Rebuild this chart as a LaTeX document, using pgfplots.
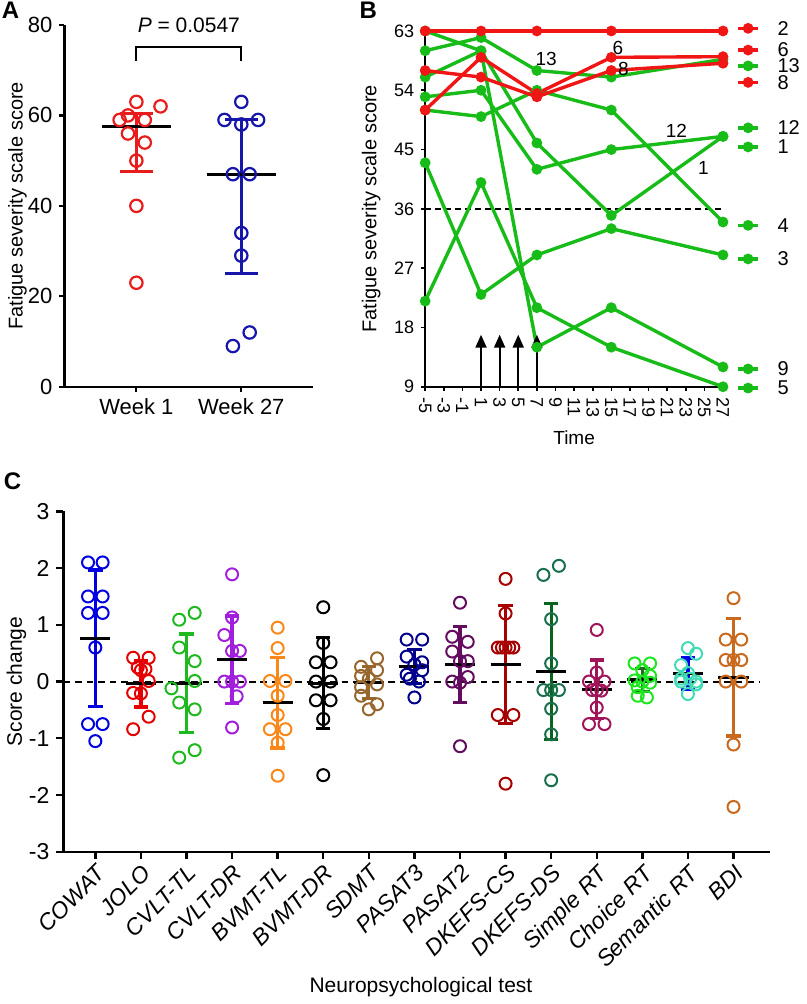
\documentclass[border=0pt]{standalone}
\usepackage{pgfplots}
\pgfplotsset{compat=1.18}
\usepackage{fontspec}
\setmainfont{Liberation Sans}
\usetikzlibrary{arrows.meta}
\definecolor{ared}{RGB}{232,28,28}
\definecolor{ablue}{RGB}{22,22,170}
\definecolor{bred}{RGB}{240,22,22}
\definecolor{bgreen}{RGB}{24,188,24}
\definecolor{cCOWAT}{RGB}{0,0,225}
\definecolor{cJOLO}{RGB}{230,0,0}
\definecolor{cCVLTTL}{RGB}{30,185,30}
\definecolor{cCVLTDR}{RGB}{160,30,220}
\definecolor{cBVMTTL}{RGB}{250,135,25}
\definecolor{cBVMTDR}{RGB}{0,0,0}
\definecolor{cSDMT}{RGB}{150,102,45}
\definecolor{cPASATt}{RGB}{0,0,140}
\definecolor{cPASATtw}{RGB}{100,12,95}
\definecolor{cDKCS}{RGB}{168,0,0}
\definecolor{cDKDS}{RGB}{25,110,75}
\definecolor{cDKDSbar}{RGB}{10,100,30}
\definecolor{cSimple}{RGB}{160,20,90}
\definecolor{cChoice}{RGB}{30,230,30}
\definecolor{cChoicebar}{RGB}{35,105,35}
\definecolor{cSem}{RGB}{65,220,180}
\definecolor{cSembar}{RGB}{0,0,235}
\definecolor{cBDI}{RGB}{200,105,30}
\pgfplotsset{
  myax/.style={scale only axis, anchor=south west, axis x line*=bottom, axis y line*=left,
    tick align=outside, clip=false, /pgf/number format/assume math mode=true},
  gl/.style={bgreen, line width=1.7pt, mark=*, mark size=1.8pt, mark options={solid, fill=bgreen, draw=bgreen}},
  rl/.style={bred, line width=1.7pt, mark=*, mark size=1.8pt, mark options={solid, fill=bred, draw=bred}},
  cpt/.style={only marks, mark=o, mark size=3pt, color=#1, mark options={line width=1pt}},
}
% error bar: x, low, high, half cap width, style
\newcommand{\ebar}[5]{\addplot[#5, mark=none, unbounded coords=jump]
  table[row sep=\\, x expr=\thisrow{x}+\thisrow{dx}, y=y]{x dx y\\ #1 0 #2\\ #1 0 #3\\ nan nan nan\\ #1 -#4 #3\\ #1 #4 #3\\ nan nan nan\\ #1 -#4 #2\\ #1 #4 #2\\};}
% mean line: x, value, half width
\newcommand{\mline}[3]{\addplot[black, line width=1.6pt, mark=none]
  table[row sep=\\, x expr=\thisrow{x}+\thisrow{dx}, y=y]{x dx y\\ #1 -#3 #2\\ #1 #3 #2\\};}
\begin{document}
\begin{tikzpicture}
\path (0,0) rectangle (396pt,502pt);
\node[anchor=north west, inner sep=0pt, font=\bfseries\fontsize{12}{14}\selectfont] at (0pt,501pt) {A};
\node[anchor=north west, inner sep=0pt, font=\bfseries\fontsize{12}{14}\selectfont] at (179pt,501pt) {B};
\node[anchor=north west, inner sep=0pt, font=\bfseries\fontsize{12}{14}\selectfont] at (1pt,265.5pt) {C};

% ---------------- Panel A
\begin{axis}[myax, at={(31.5pt,308.5pt)}, width=124.5pt, height=181pt,
  xmin=0.314, xmax=2.686, ymin=0, ymax=80,
  xtick={1,2}, xticklabels={Week 1,Week 27}, ytick={0,20,40,60,80},
  axis line style={-, line width=1.1pt}, major tick style={line width=1.1pt, black}, major tick length=2.5pt,
  tick label style={font=\fontsize{11}{13}\selectfont}]
\addplot[only marks, mark=o, mark size=3.1pt, ared, mark options={line width=1.1pt}] coordinates {(1,63)(1.23,62)(0.84,59)(0.92,60)(1.08,59)(0.92,56)(1.08,54)(1,50)(1,40)(1,23)};
\addplot[only marks, mark=o, mark size=3.1pt, ablue, mark options={line width=1.1pt}] coordinates {(2,63)(1.84,59)(2.16,59)(2,58)(1.92,47)(2.08,47)(2,34)(2,29)(2.08,12)(1.92,9)};
\ebar{1}{47.5}{60.5}{0.16}{ared, line width=1.5pt}
\ebar{2}{25}{59}{0.16}{ablue, line width=1.5pt}
\mline{1}{57.5}{0.33}
\mline{2}{47}{0.33}
\addplot[black, line width=1pt, mark=none] coordinates {(1,72)(1,75.2)(2,75.2)(2,72)};
\node[font=\fontsize{10.5}{12}\selectfont] at (axis cs:1.5,80) {\textit{P} = 0.0547};
\node[rotate=90, font=\fontsize{10}{12}\selectfont] at (rel axis cs:-0.189,0.5) {Fatigue severity scale score};
\end{axis}

% ---------------- Panel B
\begin{axis}[myax, at={(212pt,308.5pt)}, width=149pt, height=178pt,
  xmin=-5, xmax=27, ymin=9, ymax=63,
  xtick={-5,-3,...,27}, ytick={9,18,...,63},
  axis line style={-, line width=1pt}, major tick style={line width=0.8pt, black}, major tick length=2pt,
  tick label style={font=\fontsize{9}{10}\selectfont},
  xticklabel style={rotate=-90, anchor=west}]
\addplot[black, line width=0.9pt, dash pattern=on 3pt off 2pt] coordinates {(-5,36)(27,36)};
% green patients
\addplot[gl] coordinates {(-5,60)(1,62)(7,57)(15,56)(27,58.7)};   % 13
\addplot[gl] coordinates {(-5,53)(1,54)(7,42)(15,45)(27,47)};     % 12
\addplot[gl] coordinates {(-5,63)(1,60)(7,46)(15,35)(27,47)};     % 1
\addplot[gl] coordinates {(-5,56)(1,60)(7,15)(15,21)(27,12)};     % 9
\addplot[gl] coordinates {(-5,51)(1,50)(7,54)(15,51)(27,34)};     % 4
\addplot[gl] coordinates {(-5,43)(1,23)(7,29)(15,33)(27,29)};     % 3
\addplot[gl] coordinates {(-5,22)(1,40)(7,21)(15,15)(27,9)};      % 5
% red patients
\addplot[rl] coordinates {(-5,57)(1,56)(7,53)(15,57)(27,58.1)};   % 8
\addplot[rl] coordinates {(-5,51)(1,59)(7,53.5)(15,59)(27,59.1)}; % 6
\addplot[rl] coordinates {(-5,63)(1,63)(7,63)(15,63)(27,63)};     % 2
% arrows
\addplot[black, line width=1pt, -{Triangle[length=6.5pt,width=5.5pt]}, quiver={u=\thisrow{u}, v=\thisrow{v}}]
  table[row sep=\\]{x y u v\\ 1 9 0 7.9\\ 3 9 0 7.9\\ 5 9 0 7.9\\ 7 9 0 7.9\\};
% inline labels
\node[font=\fontsize{9.5}{11}\selectfont] at (axis cs:8.0,58.7) {13};
\node[font=\fontsize{9.5}{11}\selectfont] at (axis cs:15.7,60.4) {6};
\node[font=\fontsize{9.5}{11}\selectfont] at (axis cs:16.3,57.2) {8};
\node[font=\fontsize{9.5}{11}\selectfont] at (axis cs:22.0,47.8) {12};
\node[font=\fontsize{9.5}{11}\selectfont] at (axis cs:24.9,42.2) {1};
% right-hand key
\addplot[rl, mark indices={2}] coordinates {(28.6,63.4)(29.7,63.4)(30.8,63.4)};
\addplot[rl, mark indices={2}] coordinates {(28.6,60.1)(29.7,60.1)(30.8,60.1)};
\addplot[gl, mark indices={2}] coordinates {(28.6,57.7)(29.7,57.7)(30.8,57.7)};
\addplot[rl, mark indices={2}] coordinates {(28.6,55.2)(29.7,55.2)(30.8,55.2)};
\addplot[gl, mark indices={2}] coordinates {(28.6,48.3)(29.7,48.3)(30.8,48.3)};
\addplot[gl, mark indices={2}] coordinates {(28.6,45.4)(29.7,45.4)(30.8,45.4)};
\addplot[gl, mark indices={2}] coordinates {(28.6,33.5)(29.7,33.5)(30.8,33.5)};
\addplot[gl, mark indices={2}] coordinates {(28.6,28.4)(29.7,28.4)(30.8,28.4)};
\addplot[gl, mark indices={2}] coordinates {(28.6,11.7)(29.7,11.7)(30.8,11.7)};
\addplot[gl, mark indices={2}] coordinates {(28.6,8.8)(29.7,8.8)(30.8,8.8)};
\node[anchor=west, font=\fontsize{10}{11}\selectfont] at (axis cs:32.1,63.4) {2};
\node[anchor=west, font=\fontsize{10}{11}\selectfont] at (axis cs:32.1,60.1) {6};
\node[anchor=west, font=\fontsize{10}{11}\selectfont] at (axis cs:32.1,57.7) {13};
\node[anchor=west, font=\fontsize{10}{11}\selectfont] at (axis cs:32.1,55.2) {8};
\node[anchor=west, font=\fontsize{10}{11}\selectfont] at (axis cs:32.1,48.3) {12};
\node[anchor=west, font=\fontsize{10}{11}\selectfont] at (axis cs:32.1,45.4) {1};
\node[anchor=west, font=\fontsize{10}{11}\selectfont] at (axis cs:32.1,33.5) {4};
\node[anchor=west, font=\fontsize{10}{11}\selectfont] at (axis cs:32.1,28.4) {3};
\node[anchor=west, font=\fontsize{10}{11}\selectfont] at (axis cs:32.1,11.7) {9};
\node[anchor=west, font=\fontsize{10}{11}\selectfont] at (axis cs:32.1,8.8) {5};
\node[rotate=90, font=\fontsize{10}{12}\selectfont] at (rel axis cs:-0.181,0.5) {Fatigue severity scale score};
\node[font=\fontsize{9.5}{11}\selectfont] at (rel axis cs:0.5,-0.143) {Time};
\end{axis}

% ---------------- Panel C
\begin{axis}[myax, at={(31pt,75.85pt)}, width=353.5pt, height=170.3pt,
  xmin=-0.7, xmax=14.8, ymin=-3, ymax=3,
  xtick={0,...,14},
  xticklabels={COWAT,JOLO,CVLT-TL,CVLT-DR,BVMT-TL,BVMT-DR,SDMT,PASAT3,PASAT2,DKEFS-CS,DKEFS-DS,Simple RT,Choice RT,Semantic RT,BDI},
  ytick={-3,-2,-1,0,1,2,3},
  axis line style={-, line width=1.2pt}, major tick style={line width=1.2pt, black}, major tick length=3.5pt,
  tick label style={font=\fontsize{11.5}{13}\selectfont},
  xticklabel style={rotate=45, anchor=north east, inner sep=1.5pt, font=\itshape\fontsize{11.5}{13}\selectfont}]
\addplot[black, line width=1pt, dash pattern=on 3.3pt off 2.5pt] coordinates {(-0.7,0)(14.56,0)};
% points
\addplot[cpt=cCOWAT] coordinates {(-0.16,2.10)(0.16,2.10)(-0.16,1.50)(0.16,1.50)(-0.16,1.21)(0.16,1.21)(0,0.60)(-0.16,-0.75)(0.16,-0.75)(0,-1.05)};
\addplot[cpt=cJOLO] coordinates {(0.83,0.42)(1.17,0.42)(0.93,0.25)(1.0,0.2)(1.1,0.22)(1.17,0.01)(0.83,-0.2)(1.0,-0.21)(1.17,-0.62)(0.83,-0.84)};
\addplot[cpt=cCVLTTL] coordinates {(2.18,1.21)(1.84,1.09)(1.84,0.60)(2.18,0.36)(2.18,0.01)(1.67,-0.12)(1.84,-0.37)(2.18,-0.49)(2.18,-1.21)(1.84,-1.34)};
\addplot[cpt=cCVLTDR] coordinates {(3,1.89)(3,1.13)(2.83,0.82)(3.0,0.54)(3.17,0.54)(2.83,0)(3,0)(3.17,0)(3.1,-0.26)(3,-0.81)};
\addplot[cpt=cBVMTTL] coordinates {(4,0.95)(4,0.59)(3.83,0.01)(4.17,0.01)(4,-0.25)(4,-0.59)(3.83,-0.84)(4.17,-0.84)(4,-1.08)(4,-1.66)};
\addplot[cpt=cBVMTDR] coordinates {(5,1.31)(5,0.68)(4.84,0.34)(5.16,0.34)(4.84,0)(5.16,0)(4.84,-0.33)(5.16,-0.33)(5,-0.66)(5,-1.65)};
\addplot[cpt=cSDMT] coordinates {(6.18,0.41)(5.83,0.26)(6.18,0.2)(5.83,0.1)(6.0,0.05)(6.18,-0.05)(5.83,-0.1)(5.83,-0.25)(6.18,-0.4)(6.0,-0.49)};
\addplot[cpt=cPASATt] coordinates {(6.83,0.74)(7.17,0.74)(6.83,0.44)(7.17,0.34)(7,0.3)(7.17,0.2)(6.83,0.12)(6.9,0.05)(7.1,0)(7,-0.28)};
\addplot[cpt=cPASATtw] coordinates {(8,1.39)(7.83,0.79)(8.17,0.70)(7.83,0.53)(8,0.36)(8.17,0.36)(8.17,0.08)(7.83,0)(8,-0.02)(8,-1.14)};
\addplot[cpt=cDKCS] coordinates {(9,1.81)(9,1.2)(8.83,0.6)(8.92,0.6)(9,0.6)(9.08,0.6)(9.17,0.6)(8.83,-0.59)(9.17,-0.59)(9,-1.8)};
\addplot[cpt=cDKDS] coordinates {(10.17,2.04)(9.83,1.88)(10,1.1)(10,0.32)(9.83,-0.15)(10,-0.15)(10.17,-0.15)(10,-0.48)(10,-0.93)(10,-1.74)};
\addplot[cpt=cSimple] coordinates {(11,0.91)(11,0.16)(10.83,0)(11.17,0)(11,-0.15)(10.9,-0.15)(11.1,-0.16)(11,-0.46)(10.83,-0.75)(11.17,-0.75)};
\addplot[cpt=cChoice] coordinates {(11.83,0.32)(12.17,0.32)(12,0.2)(12.17,0.1)(11.83,0.02)(12,0)(12.17,-0.02)(11.9,-0.1)(11.9,-0.25)(12.1,-0.28)};
\addplot[cpt=cSem] coordinates {(13,0.59)(13.18,0.49)(12.85,0.29)(13.05,0.05)(13,0.15)(12.85,0.05)(12.85,0)(13.18,0)(13.18,-0.05)(13,-0.22)};
\addplot[cpt=cBDI] coordinates {(14,1.47)(13.83,0.74)(14.17,0.74)(13.83,0.38)(14,0.38)(14.17,0.38)(13.83,0)(14.17,0)(14,-1.11)(14,-2.21)};
% error bars (mean +- SD)
\ebar{0}{-0.435}{1.965}{0.158}{cCOWAT, line width=1.6pt}
\ebar{1}{-0.447}{0.373}{0.158}{cJOLO, line width=1.6pt}
\ebar{2}{-0.90}{0.84}{0.158}{cCVLTTL, line width=1.6pt}
\ebar{3}{-0.385}{1.155}{0.158}{cCVLTDR, line width=1.6pt}
\ebar{4}{-1.17}{0.43}{0.158}{cBVMTTL, line width=1.6pt}
\ebar{5}{-0.83}{0.77}{0.158}{cBVMTDR, line width=1.6pt}
\ebar{6}{-0.30}{0.26}{0.158}{cSDMT, line width=1.6pt}
\ebar{7}{-0.035}{0.565}{0.158}{cPASATt, line width=1.6pt}
\ebar{8}{-0.365}{0.975}{0.158}{cPASATtw, line width=1.6pt}
\ebar{9}{-0.737}{1.343}{0.158}{cDKCS, line width=1.6pt}
\ebar{10}{-1.02}{1.38}{0.158}{cDKDSbar, line width=1.6pt}
\ebar{11}{-0.65}{0.38}{0.158}{cSimple, line width=1.6pt}
\ebar{12}{-0.169}{0.231}{0.158}{cChoicebar, line width=1.6pt}
\ebar{13}{-0.145}{0.415}{0.158}{cSembar, line width=1.6pt}
\ebar{14}{-0.958}{1.112}{0.158}{cBDI, line width=1.6pt}
% means
\mline{0}{0.765}{0.33}
\mline{1}{-0.037}{0.33}
\mline{2}{-0.03}{0.33}
\mline{3}{0.385}{0.33}
\mline{4}{-0.37}{0.33}
\mline{5}{-0.03}{0.33}
\mline{6}{-0.02}{0.33}
\mline{7}{0.265}{0.33}
\mline{8}{0.305}{0.33}
\mline{9}{0.303}{0.33}
\mline{10}{0.18}{0.33}
\mline{11}{-0.135}{0.33}
\mline{12}{0.031}{0.33}
\mline{13}{0.135}{0.33}
\mline{14}{0.077}{0.33}
\node[rotate=90, font=\fontsize{10.5}{12}\selectfont] at (rel axis cs:-0.0665,0.5) {Score change};
\node[font=\fontsize{10.5}{12}\selectfont] at (rel axis cs:0.506,-0.399) {Neuropsychological test};
\end{axis}
\end{tikzpicture}
\end{document}
